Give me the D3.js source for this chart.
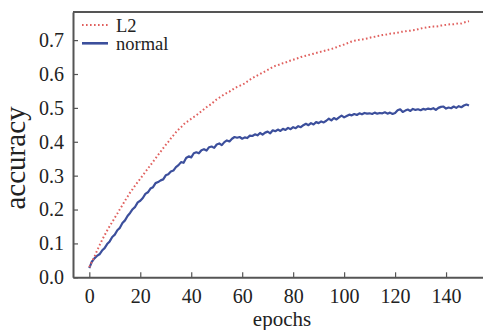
<!DOCTYPE html>
<html>
<head>
<meta charset="utf-8">
<script src="https://cdn.jsdelivr.net/npm/d3@7"></script>
<style>
  body { margin: 0; background: #fff; }
</style>
</head>
<body>
<div id="chart"></div>
<script>

const xTicks = [0, 20, 40, 60, 80, 100, 120, 140];
const yTicks = [0.0, 0.1, 0.2, 0.3, 0.4, 0.5, 0.6, 0.7];
const seriesNames = ['L2', 'normal'];

// accuracy per epoch (epochs 0..149)
const l2Acc = [
  0.030, 0.046, 0.060, 0.078, 0.094, 0.110, 0.124, 0.138, 0.151, 0.163,
  0.176, 0.188, 0.201, 0.213, 0.226, 0.238, 0.250, 0.260, 0.271, 0.281,
  0.291, 0.301, 0.311, 0.321, 0.331, 0.341, 0.351, 0.361, 0.371, 0.381,
  0.391, 0.400, 0.410, 0.419, 0.428, 0.436, 0.443, 0.451, 0.458, 0.462,
  0.468, 0.473, 0.478, 0.484, 0.490, 0.496, 0.502, 0.507, 0.512, 0.519,
  0.525, 0.530, 0.535, 0.540, 0.544, 0.548, 0.553, 0.558, 0.562, 0.565,
  0.569, 0.572, 0.578, 0.583, 0.588, 0.592, 0.596, 0.600, 0.604, 0.608,
  0.612, 0.616, 0.621, 0.624, 0.626, 0.629, 0.632, 0.634, 0.637, 0.640,
  0.642, 0.645, 0.647, 0.650, 0.652, 0.654, 0.656, 0.658, 0.660, 0.662,
  0.664, 0.666, 0.668, 0.670, 0.672, 0.674, 0.676, 0.679, 0.682, 0.685,
  0.687, 0.690, 0.693, 0.696, 0.698, 0.699, 0.701, 0.702, 0.703, 0.705,
  0.707, 0.709, 0.710, 0.712, 0.713, 0.715, 0.716, 0.717, 0.719, 0.720,
  0.720, 0.722, 0.724, 0.725, 0.726, 0.727, 0.728, 0.729, 0.730, 0.732,
  0.734, 0.736, 0.737, 0.739, 0.739, 0.740, 0.740, 0.741, 0.743, 0.744,
  0.745, 0.746, 0.747, 0.747, 0.748, 0.750, 0.749, 0.752, 0.754, 0.756
];

const normalAcc = [
  0.027, 0.046, 0.056, 0.063, 0.068, 0.079, 0.086, 0.098, 0.106, 0.119,
  0.126, 0.139, 0.146, 0.160, 0.168, 0.181, 0.190, 0.201, 0.208, 0.221,
  0.226, 0.234, 0.246, 0.251, 0.262, 0.266, 0.278, 0.281, 0.286, 0.289,
  0.301, 0.304, 0.312, 0.315, 0.325, 0.331, 0.340, 0.338, 0.352, 0.357,
  0.354, 0.366, 0.369, 0.366, 0.375, 0.378, 0.374, 0.384, 0.386, 0.382,
  0.392, 0.395, 0.390, 0.399, 0.404, 0.401, 0.409, 0.414, 0.412, 0.414,
  0.409, 0.413, 0.411, 0.418, 0.417, 0.422, 0.419, 0.426, 0.421, 0.427,
  0.430, 0.425, 0.434, 0.431, 0.436, 0.432, 0.438, 0.435, 0.441, 0.437,
  0.443, 0.440, 0.446, 0.443, 0.449, 0.453, 0.449, 0.455, 0.451, 0.458,
  0.455, 0.460, 0.457, 0.462, 0.468, 0.463, 0.470, 0.466, 0.472, 0.477,
  0.472, 0.476, 0.480, 0.478, 0.482, 0.479, 0.484, 0.481, 0.485, 0.483,
  0.484, 0.482, 0.486, 0.483, 0.485, 0.484, 0.487, 0.483, 0.486, 0.482,
  0.485, 0.493, 0.496, 0.488, 0.492, 0.495, 0.491, 0.497, 0.494, 0.496,
  0.493, 0.497, 0.495, 0.498, 0.496, 0.499, 0.494, 0.500, 0.503, 0.504,
  0.498, 0.501, 0.499, 0.504, 0.500, 0.505, 0.502, 0.507, 0.510, 0.507
];

const width = 483, height = 330;
const plot = { left: 73, top: 12, bottom: 277.3, right: 483 };
const serif = "'Liberation Serif'";

const svg = d3.select('#chart')
  .append('svg')
    .attr('width', width)
    .attr('height', height)
    .style('font-family', serif);

svg.append('rect').attr('width', width).attr('height', height).attr('fill', '#fff');

const x = d3.scaleLinear()
  .domain([-6.4, 154.5])
  .range([plot.left, plot.right]);

const y = d3.scaleLinear()
  .domain([0, 0.783])
  .range([plot.bottom, plot.top]);

const axisColor = '#555';

// X axis (ticks point inward)
const gx = svg.append('g')
  .attr('transform', 'translate(0,' + plot.bottom + ')')
  .call(d3.axisBottom(x).tickValues(xTicks).tickSizeInner(-5).tickSizeOuter(0).tickPadding(10));

// Y axis
const gy = svg.append('g')
  .attr('transform', 'translate(' + plot.left + ',0)')
  .call(d3.axisLeft(y).tickValues(yTicks).tickFormat(d3.format('.1f')).tickSizeInner(-5).tickSizeOuter(0).tickPadding(9));

[gx, gy].forEach(function(g) {
  g.attr('font-family', null).attr('font-size', null)
    .style('font-family', serif).style('font-size', '20px');
  g.select('.domain').attr('stroke', axisColor).attr('stroke-width', 2);
  g.selectAll('.tick line').attr('stroke', axisColor).attr('stroke-width', 1.2);
  g.selectAll('.tick text')
    .attr('fill', '#222')
    .style('font-family', serif)
    .style('font-size', '20px');
});
gx.selectAll('.tick text').attr('dy', '0.71em').attr('y', 12);

// top spine
svg.append('line')
  .attr('x1', plot.left).attr('x2', plot.right)
  .attr('y1', plot.top).attr('y2', plot.top)
  .attr('stroke', axisColor).attr('stroke-width', 2);

const epochs = d3.range(l2Acc.length);

const line = d3.line()
  .x(function(d, i) { return x(epochs[i]); })
  .y(function(d) { return y(d); });

const blue = '#3c4f9c';
const red = '#e0605e';

svg.append('path')
  .datum(normalAcc)
  .attr('d', line)
  .attr('fill', 'none')
  .attr('stroke', blue)
  .attr('stroke-width', 2.2)
  .attr('stroke-linejoin', 'round');

svg.append('path')
  .datum(l2Acc)
  .attr('d', line)
  .attr('fill', 'none')
  .attr('stroke', red)
  .attr('stroke-width', 2)
  .attr('stroke-dasharray', '1.6,2.4');

// legend
const legend = svg.append('g');
const legendRows = [
  { name: seriesNames[0], color: red, dash: '1.6,2.4', w: 2, ly: 25, ty: 32 },
  { name: seriesNames[1], color: blue, dash: null, w: 2.6, ly: 43.3, ty: 49.5 }
];
legendRows.forEach(function(r) {
  legend.append('line')
    .attr('x1', 82).attr('x2', 108)
    .attr('y1', r.ly).attr('y2', r.ly)
    .attr('stroke', r.color)
    .attr('stroke-width', r.w)
    .attr('stroke-dasharray', r.dash);
  legend.append('text')
    .attr('x', 116).attr('y', r.ty)
    .attr('fill', '#222')
    .style('font-family', serif)
    .style('font-size', '18.5px')
    .text(r.name);
});

// axis titles
svg.append('text')
  .attr('x', 282).attr('y', 326)
  .attr('text-anchor', 'middle')
  .attr('fill', '#222')
  .style('font-family', serif)
  .style('font-size', '21px')
  .text('epochs');

svg.append('text')
  .attr('transform', 'translate(25,158) rotate(-90)')
  .attr('text-anchor', 'middle')
  .attr('fill', '#222')
  .style('font-family', serif)
  .style('font-size', '29px')
  .text('accuracy');

</script>
</body>
</html>
